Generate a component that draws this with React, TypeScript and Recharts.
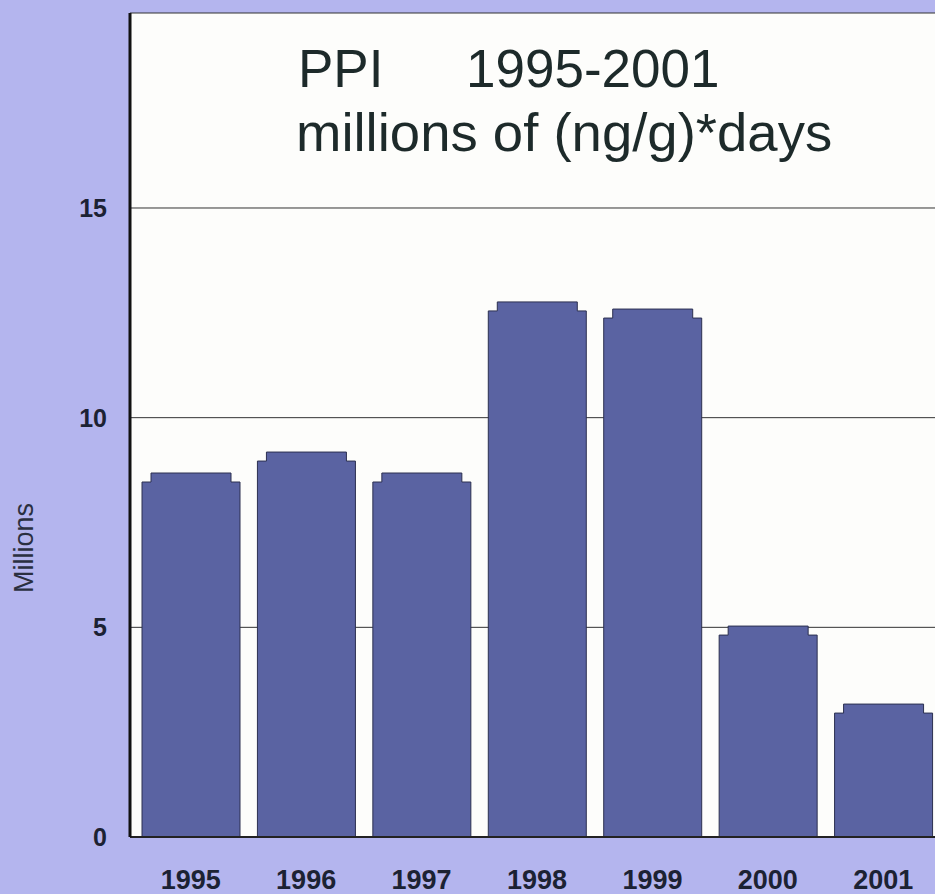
import { BarChart, Bar, XAxis, YAxis, CartesianGrid } from 'recharts';

// PPI per year, millions of (ng/g)*days
const years = ['1995', '1996', '1997', '1998', '1999', '2000', '2001'];
const ppiMillions = [8.68, 9.18, 8.68, 12.76, 12.59, 5.03, 3.17];
const yTicks = [0, 5, 10, 15];
const yMax = 19.65;

const data = years.map((year, i) => ({ year, value: ppiMillions[i] }));

const FONT = '"Liberation Sans", Arial, Helvetica, sans-serif';
const BG = '#b4b5ee';
const PLOT_BG = '#fdfdfb';
const BAR = '#5a63a2';
const EDGE = '#2c3050';
const INK = '#1c2233';

// bar with the narrow raised cap seen in the original
const CappedBar = (props: any) => {
  const { x, y, width, height } = props;
  if (!height || height <= 0) return null;
  const cap = 9;
  const inset = 9;
  const d = [
    `M${x},${y + height}`,
    `L${x},${y + cap}`,
    `L${x + inset},${y + cap}`,
    `L${x + inset},${y}`,
    `L${x + width - inset},${y}`,
    `L${x + width - inset},${y + cap}`,
    `L${x + width},${y + cap}`,
    `L${x + width},${y + height}`,
    'Z',
  ].join(' ');
  return <path d={d} fill={BAR} stroke={EDGE} strokeWidth={1} />;
};

export default function App() {
  return (
    <div
      style={{
        position: 'absolute',
        left: 0,
        top: 0,
        width: 935,
        height: 894,
        overflow: 'hidden',
        background: BG,
        fontFamily: FONT,
      }}
    >
      <BarChart
        width={941}
        height={894}
        data={data}
        margin={{ top: 13, right: 0, bottom: 0, left: 0 }}
      >
        <CartesianGrid
          horizontal
          vertical={false}
          stroke="#333333"
          strokeWidth={1}
          fill={PLOT_BG}
          fillOpacity={1}
        />
        <XAxis
          dataKey="year"
          height={57}
          padding={{ left: 3, right: 0 }}
          tickLine={false}
          tickSize={0}
          tickMargin={33}
          axisLine={{ stroke: '#222222', strokeWidth: 2 }}
          tick={{ fill: INK, fontSize: 27, fontWeight: 700, fontFamily: FONT }}
        />
        <XAxis
          xAxisId="top"
          dataKey="year"
          orientation="top"
          height={0}
          tick={false}
          tickLine={false}
          axisLine={{ stroke: '#222222', strokeWidth: 2 }}
        />
        <YAxis
          width={130}
          domain={[0, yMax]}
          ticks={yTicks}
          allowDataOverflow
          tickLine={false}
          tickSize={0}
          tickMargin={23}
          axisLine={{ stroke: '#111111', strokeWidth: 3 }}
          tick={{ fill: INK, fontSize: 25, fontWeight: 700, fontFamily: FONT }}
        />
        <Bar dataKey="value" barSize={98} shape={<CappedBar />} isAnimationActive={false} />
      </BarChart>
      <svg
        width={935}
        height={894}
        style={{ position: 'absolute', left: 0, top: 0, pointerEvents: 'none' }}
      >
        <text x={298} y={87} fontSize={53} fill="#1d2a2a" fontFamily={FONT}>PPI</text>
        <text x={466} y={87} fontSize={53} fill="#1d2a2a" fontFamily={FONT}>1995-2001</text>
        <text x={296} y={151} fontSize={54.5} fill="#1d2a2a" fontFamily={FONT}>millions of (ng/g)*days</text>
        <text
          x={0}
          y={0}
          transform="translate(33,548) rotate(-90)"
          textAnchor="middle"
          fontSize={27}
          fill="#2a2f40"
          fontFamily={FONT}
        >
          Millions
        </text>
      </svg>
    </div>
  );
}
